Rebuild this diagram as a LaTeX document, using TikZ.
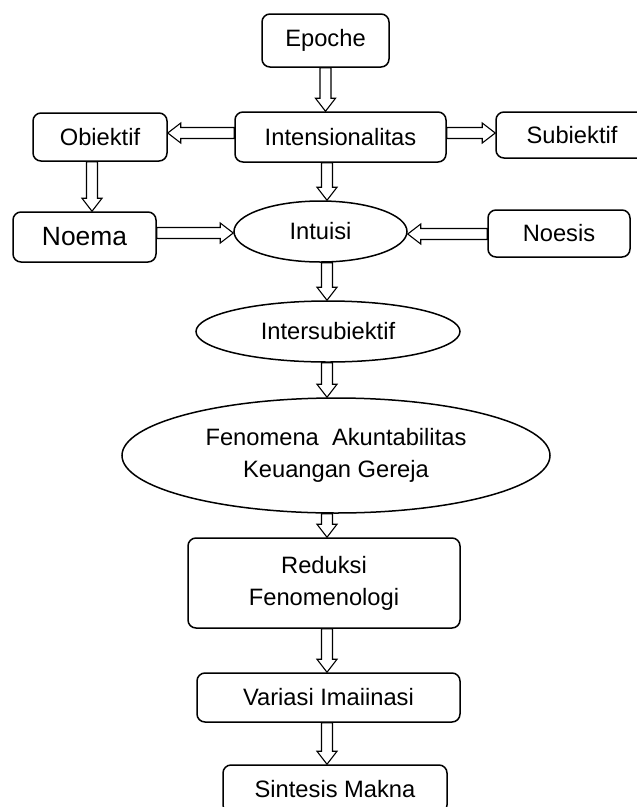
\documentclass[tikz,border=0pt]{standalone}
\usepackage{fontspec}
\setmainfont{Liberation Sans}
\usetikzlibrary{shapes.geometric,calc}

\newcommand{\blockarrow}[2]{%
  \coordinate (ba) at (#1);
  \coordinate (bb) at (#2);
  \coordinate (hb) at ($(bb)!13pt!(ba)$);
  \draw[arrowbody] ($(ba)!5.5pt!90:(bb)$) -- ($(hb)!5.5pt!90:(bb)$) -- ($(hb)!10pt!90:(bb)$)
    -- (bb) -- ($(hb)!10pt!-90:(bb)$) -- ($(hb)!5.5pt!-90:(bb)$) -- ($(ba)!5.5pt!-90:(bb)$) -- cycle;}

\begin{document}
\begin{tikzpicture}[x=1pt, y=-1pt,
    box/.style={draw, line width=1.5pt, rounded corners=8pt, inner sep=0pt,
      font=\fontsize{23.7}{32}\selectfont, align=center},
    oval/.style={draw, ellipse, line width=1.5pt, inner sep=0pt,
      font=\fontsize{23.7}{32}\selectfont, align=center},
    arrowbody/.style={draw=black, fill=white, line width=1.1pt, line join=miter}]
		\useasboundingbox (0,0) rectangle (637,807);
		\clip (0,0) rectangle (637,807);
		\node[box, minimum width=127, minimum height=53] (epoche) at (325.5,40.5) {Epoche};
		\node[box, minimum width=211, minimum height=50] (intens) at (340.5,137) {Intensionalitas};
		\node[box, minimum width=134, minimum height=48] (obj) at (100,137) {Obiektif};
		\node[box, minimum width=152, minimum height=46] (subj) at (572,135) {Subiektif};
		\node[box, minimum width=143, minimum height=50, font=\fontsize{26.4}{32}\selectfont] (noema) at (84.5,237) {Noema};
		\node[oval, minimum width=173, minimum height=61] (intuisi) at (320.5,231.5) {Intuisi};
		\node[box, minimum width=142, minimum height=47] (noesis) at (559,233.5) {Noesis};
		\node[oval, minimum width=264, minimum height=61] (inters) at (328,331.5) {Intersubiektif};
		\node[oval, minimum width=428, minimum height=115] (fenomena) at (336,455.5) {Fenomena\ \ Akuntabilitas\\Keuangan Gereja};
		\node[box, minimum width=272, minimum height=90] (reduksi) at (324,583) {Reduksi\\Fenomenologi};
		\node[box, minimum width=263, minimum height=49] (variasi) at (328.5,697.5) {Variasi Imaiinasi};
		\node[box, minimum width=224, minimum height=48] (sintesis) at (335,789) {Sintesis Makna};
		
		\coordinate (ax) at (327,0);
		\coordinate (axo) at (92,0);
		\coordinate (hya) at (0,133);
		\coordinate (hyb) at (0,233);
		\coordinate (hyc) at (0,234);
		
		\blockarrow{epoche.south}{epoche.south |- intens.north}
		\blockarrow{intens.west |- hya}{obj.east |- hya}
		\blockarrow{intens.east |- hya}{subj.west |- hya}
		\blockarrow{obj.south -| axo}{noema.north -| axo}
		\blockarrow{intens.south -| ax}{intuisi.north -| ax}
		\blockarrow{noema.east |- hyb}{intuisi.west |- hyb}
		\blockarrow{noesis.west |- hyc}{intuisi.east |- hyc}
		\blockarrow{intuisi.south -| ax}{inters.north -| ax}
		\blockarrow{inters.south -| ax}{fenomena.north -| ax}
		\blockarrow{fenomena.south -| ax}{reduksi.north -| ax}
		\blockarrow{reduksi.south -| ax}{variasi.north -| ax}
		\blockarrow{variasi.south -| ax}{sintesis.north -| ax}
		
		\end{tikzpicture}
\end{document}
